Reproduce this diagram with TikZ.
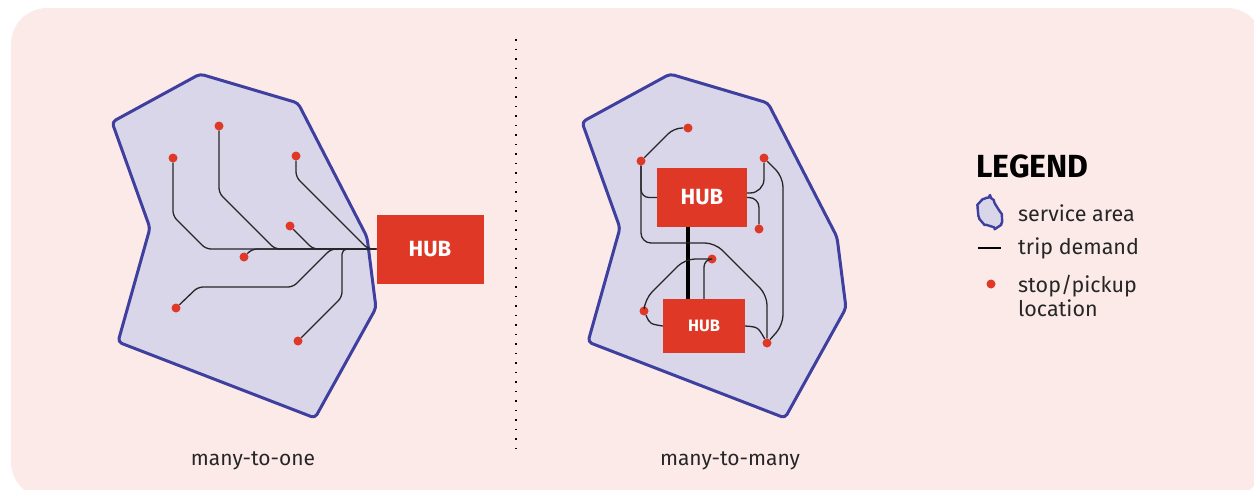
\documentclass[tikz,border=0pt]{standalone}
\usepackage{fontspec}
\setmainfont{Fira Sans}
\usetikzlibrary{positioning}
\definecolor{panelpink}{RGB}{252,234,232}
\definecolor{areafill}{RGB}{217,214,234}
\definecolor{arealine}{RGB}{62,63,158}
\definecolor{hubred}{RGB}{224,56,38}
\definecolor{labelgray}{RGB}{38,38,38}
\tikzset{
  service area/.style={
    fill=areafill,
    draw=arealine,
    line width=3pt,
    rounded corners=4pt,
    line join=round
  },
  trip/.style={
    draw=black!85,
    line width=1.3pt,
    rounded corners=5pt
  },
  hub link/.style={
    draw=black,
    line width=3.2pt
  },
  stop dot/.style={
    circle,
    fill=hubred,
    inner sep=0pt,
    minimum size=9pt
  },
  hub box/.style={
    fill=hubred,
    text=white,
    inner sep=0pt,
    font=\bfseries\fontsize{22}{26}\selectfont
  },
  panel label/.style={
    text=labelgray,
    anchor=base,
    font=\fontsize{21}{24}\selectfont
  },
  legend text/.style={
    text=labelgray,
    anchor=base west,
    inner sep=0pt,
    align=left,
    font=\fontsize{21.5}{24}\selectfont
  }
}
% outline of one service area, in pixels
\newcommand{\areashape}{(112,122) -- (200,74) -- (298,103) -- (367,237) -- (376,308)
  -- (315,418) -- (118,342) -- (150,228) -- cycle}

\begin{document}
\begin{tikzpicture}[x=1pt, y=-1pt]
    \useasboundingbox (0,0) rectangle (1254,490);
    \fill[panelpink, rounded corners=36pt] (11,8) rectangle (1263,498);

    % divider
    \draw[line width=1.6pt, dash pattern=on 1.6pt off 7.9pt] (516,39) -- (516,455);

    % ---------- many-to-one ----------
    \draw[service area] \areashape;
    \node[hub box, minimum width=107pt, minimum height=69pt] (hubA) at (430,249) {HUB};

    \node[stop dot] (l1) at (173,158) {};
    \node[stop dot] (l2) at (219,126) {};
    \node[stop dot] (l3) at (296,156) {};
    \node[stop dot] (l4) at (290,226) {};
    \node[stop dot] (l5) at (244,257) {};
    \node[stop dot] (l6) at (176,308) {};
    \node[stop dot] (l7) at (298,341) {};

    % every trip runs into the trunk and on to the hub
    \draw[trip] (l1) -- (173,216) -- (206,249) -- (hubA.west);
    \draw[trip] (l2) -- (219,193) -- (275,249) -- (hubA.west);
    \draw[trip] (l3) -- (296,177) -- (368,249) -- (hubA.west);
    \draw[trip] (l4) -- (313,249) -- (hubA.west);
    \draw[trip] (l5) -- (252,249) -- (hubA.west);
    \draw[trip] (l6) -- (198,287) -- (293,287) -- (331,249) -- (hubA.west);
    \draw[trip] (l7) -- (342,297) -- (342,249) -- (hubA.west);

    \node[panel label] (oneLabel) at (253,465) {many-to-one};

    % ---------- many-to-many ----------
    \begin{scope}[xshift=470pt]
      \draw[service area] \areashape;
    \end{scope}
    \node[hub box, minimum width=90pt, minimum height=59pt] (hubB) at (702,197.5) {HUB};
    \node[hub box, minimum width=82pt, minimum height=54pt,
          font=\bfseries\fontsize{16.5}{20}\selectfont] (hubC) at (704,326) {HUB};

    \coordinate (lk) at (688,260);
    \draw[hub link] (hubB.south -| lk) -- (hubC.north -| lk);

    \node[stop dot] (r1) at (688,128) {};
    \node[stop dot] (r2) at (641,161) {};
    \node[stop dot] (r3) at (764,158) {};
    \node[stop dot] (r4) at (759,229) {};
    \node[stop dot] (r5) at (712,259) {};
    \node[stop dot] (r6) at (644,311) {};
    \node[stop dot] (r7) at (767,343) {};

    \draw[trip, rounded corners=8pt] (r2) -- (674,128) -- (r1);
    \draw[trip, rounded corners=8pt] (r2) |- (hubB.west);
    \draw[trip, rounded corners=10pt] (r2) -- (641,243) -- (715,243) -- (767,295) -- (r7);
    \draw[trip, rounded corners=14pt] (r3) |- ([yshift=4.5pt]hubB.east);
    \draw[trip, rounded corners=10pt] (hubB.east) -| (r4);
    \draw[trip, rounded corners=10pt] (r3) -- (783,177) -- (783,325) -- (r7);
    \draw[trip, rounded corners=8pt] (r5) -| (hubC.north);
    \draw[trip, rounded corners=10pt] (r5) -- (685,259) -- (645,299) -- (r6);
    \draw[trip] (r6) .. controls (650,324) .. (hubC.west);
    \draw[trip] (hubC.east) .. controls (758,327) .. (r7);

    \node[panel label] (manyLabel) at (730,465) {many-to-many};

    % ---------- legend ----------
    \node[anchor=base west, inner sep=0pt,
          font=\bfseries\fontsize{32}{36}\selectfont] (legend) at (976,177) {LEGEND};

    \draw[service area, line width=2.4pt] plot[smooth cycle, tension=0.7]
      coordinates {(980,202) (990,199) (997,207) (1002,218) (998,227) (990,226) (982,222) (978,212)};
    \node[legend text] (keyArea) at (1018,221) {service area};

    \draw[line width=2.5pt] (978,248) -- (1001,248);
    \node[legend text] (keyTrip) at (1018,254) {trip demand};

    \node[stop dot] (keyDot) at (991,284) {};
    % base of a two-line node sits on its last line
    \node[legend text] (keyStop) at (1018,316) {stop/pickup\\location};
\end{tikzpicture}
\end{document}
